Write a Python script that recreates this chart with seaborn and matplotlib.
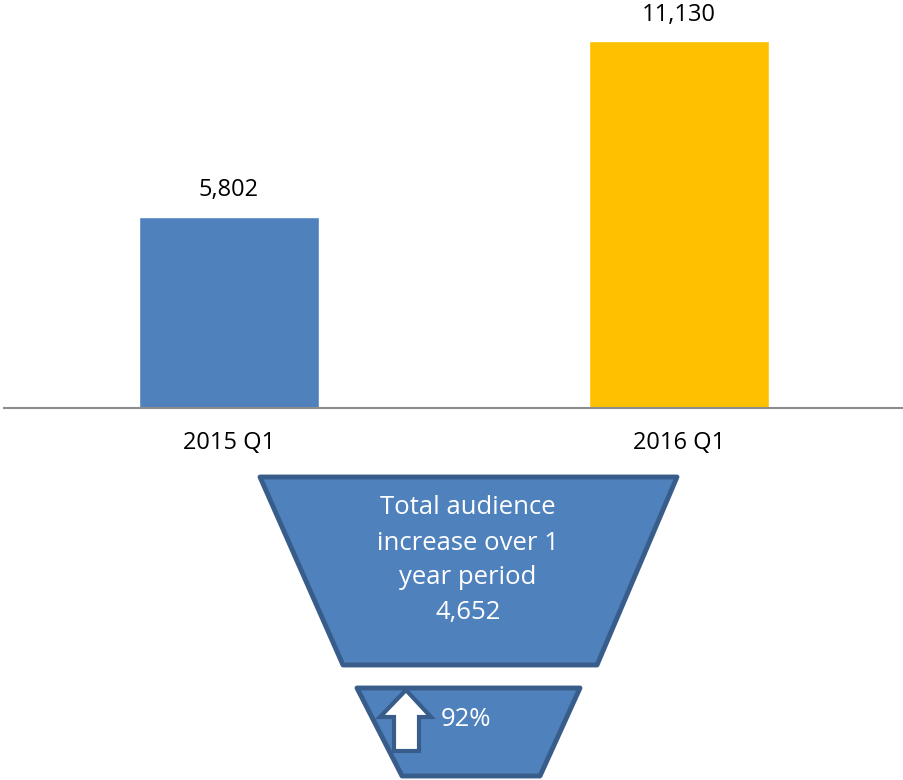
import matplotlib
matplotlib.use("Agg")
import matplotlib.pyplot as plt
import seaborn as sns
import pandas as pd
from matplotlib.patches import Polygon

categories = ["2015 Q1", "2016 Q1"]
values = [5802, 11130]
bar_colors = ["#4F81BD", "#FFC000"]
increase = 4652
increase_pct = "92%"
funnel_lines = ["Total audience", "increase over 1", "year period", "4,652"]

sns.set_theme(style="white")
plt.rcParams["font.family"] = ["Open Sans", "DejaVu Sans"]

W, H = 904, 780
fig = plt.figure(figsize=(W / 100, H / 100), dpi=100)

# main bar axes: from top of figure down to baseline at y=408 px
base_px = 408
ax = fig.add_axes([4 / W, 1 - base_px / H, 900 / W, base_px / H])
df = pd.DataFrame({"cat": categories, "val": values})
sns.barplot(data=df, x="cat", y="val", hue="cat", palette=bar_colors,
            width=0.4, ax=ax, legend=False, saturation=1)
ax.set_xlim(-0.5, 1.5)
ax.set_ylim(0, base_px * 11130 / 367)
ax.set_xlabel("")
ax.set_ylabel("")
ax.set_yticks([])
ax.set_xticks([])
for s in ["top", "left", "right"]:
    ax.spines[s].set_visible(False)
ax.spines["bottom"].set_color("#8C8C8C")
ax.spines["bottom"].set_linewidth(1.5)
ax.patch.set_alpha(0)

for i, v in enumerate(values):
    ax.annotate(f"{v:,}", (i, v), xytext=(0, 19), textcoords="offset points",
                ha="center", va="center", fontsize=17, color="black")
    ax.annotate(categories[i], (i, 0), xytext=(0, -25), textcoords="offset points",
                ha="center", va="center", fontsize=17, color="black")

# overlay axes in pixel coords for funnel graphics
ov = fig.add_axes([0, 0, 1, 1])
ov.set_xlim(0, W)
ov.set_ylim(H, 0)
ov.axis("off")
ov.patch.set_alpha(0)

fill = "#4F81BD"
edge = "#385D8A"
trap1 = Polygon([(260, 477), (677, 477), (597, 665), (343, 665)], closed=True,
                facecolor=fill, edgecolor=edge, linewidth=3.5, joinstyle="round")
ov.add_patch(trap1)
trap2 = Polygon([(357, 688), (580, 688), (540, 776), (402, 776)], closed=True,
                facecolor=fill, edgecolor=edge, linewidth=3.5, joinstyle="round")
ov.add_patch(trap2)
arrow = Polygon([(406, 690), (431, 717), (419, 717), (419, 751), (394, 751),
                 (394, 717), (380, 717)], closed=True,
                facecolor="white", edgecolor=edge, linewidth=3, joinstyle="miter")
ov.add_patch(arrow)

ys = [507, 543, 578, 612]
for t, y in zip(funnel_lines, ys):
    ov.text(468, y, t, ha="center", va="center", color="white", fontsize=18.5)
ov.text(466, 719, increase_pct, ha="center", va="center", color="white", fontsize=18.5)

fig.savefig("out.png", dpi=100)
